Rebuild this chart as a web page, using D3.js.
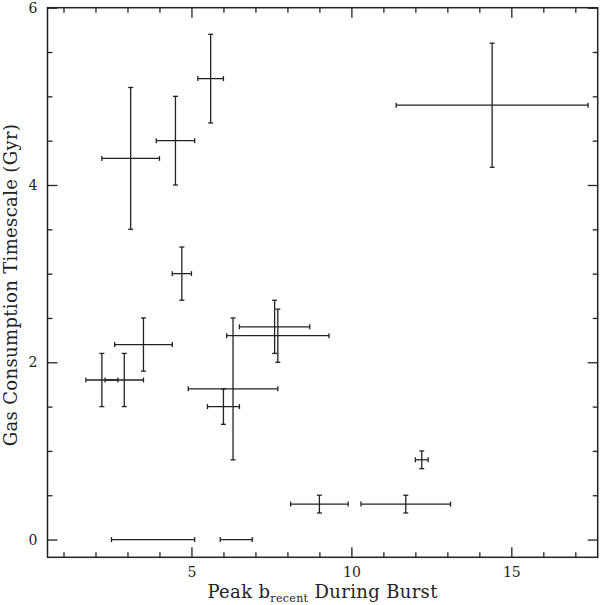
<!DOCTYPE html>
<html>
<head>
<meta charset="utf-8">
<script src="https://cdn.jsdelivr.net/npm/d3@7"></script>
<style>
  html, body { margin: 0; padding: 0; background: #fff; }
  svg { display: block; }
  text { font-family: "DejaVu Serif", "Liberation Serif", serif; fill: #222; }
</style>
</head>
<body>
<svg id="chart" width="600" height="605"></svg>
<script>
// ---- data ----
const xVal = [3.1, 4.5, 5.6, 14.4, 4.7, 3.5, 2.2, 2.9, 6.3, 6.0, 7.6, 7.7, 12.2, 9.0, 11.7, 3.8, 6.4];
const yVal = [4.3, 4.5, 5.2, 4.9, 3.0, 2.2, 1.8, 1.8, 1.7, 1.5, 2.4, 2.3, 0.9, 0.4, 0.4, 0.0, 0.0];
const xLow = [2.2, 3.9, 5.2, 11.4, 4.4, 2.6, 1.7, 2.3, 4.9, 5.5, 6.5, 6.1, 12.0, 8.1, 10.3, 2.5, 5.9];
const xHigh = [4.0, 5.1, 6.0, 17.4, 5.0, 4.4, 2.7, 3.5, 7.7, 6.5, 8.7, 9.3, 12.4, 9.9, 13.1, 5.1, 6.9];
const yLow = [3.5, 4.0, 4.7, 4.2, 2.7, 1.9, 1.5, 1.5, 0.9, 1.3, 2.1, 2.0, 0.8, 0.3, 0.3, 0.0, 0.0];
const yHigh = [5.1, 5.0, 5.7, 5.6, 3.3, 2.5, 2.1, 2.1, 2.5, 1.7, 2.7, 2.6, 1.0, 0.5, 0.5, 0.0, 0.0];

const xMajorTicks = [5, 10, 15];
const xMinorTicks = [1,2,3,4,6,7,8,9,11,12,13,14,16,17];
const yMajorTicks = [0, 2, 4, 6];
const yMinorTicks = [0.5,1,1.5,2.5,3,3.5,4.5,5,5.5];

const xDomain = [0.5, 17.7];
const yDomain = [-0.2, 6];

const xLabel = "Peak b";
const xLabelSub = "recent";
const xLabelTail = " During Burst";
const yLabel = "Gas Consumption Timescale (Gyr)";

// ---- layout ----
const pLeft = 47.5, pRight = 597.7, pTop = 7.7, pBottom = 557.3;
const ink = "#222";

const svg = d3.select("#chart");
const x = d3.scaleLinear().domain(xDomain).range([pLeft, pRight]);
const y = d3.scaleLinear().domain(yDomain).range([pBottom, pTop]);

const data = xVal.map((v, i) => ({x: v, y: yVal[i], xl: xLow[i], xh: xHigh[i], yl: yLow[i], yh: yHigh[i]}));

// axes: ticks pointing inward on all four sides
function styleAxis(g) {
  g.select(".domain").remove();
  g.selectAll(".tick line").attr("stroke", ink).attr("stroke-width", 1.3);
  g.selectAll(".tick text").attr("fill", ink).style("font-size", "14px")
    .style("font-family", '"DejaVu Serif", serif');
}

const majLen = 10, minLen = 5;
// bottom
svg.append("g").attr("transform", `translate(0,${pBottom})`)
  .call(d3.axisBottom(x).tickValues(xMajorTicks).tickSize(-majLen).tickPadding(9.5).tickFormat(d3.format("d")))
  .call(styleAxis);
svg.append("g").attr("transform", `translate(0,${pBottom})`)
  .call(d3.axisBottom(x).tickValues(xMinorTicks).tickSize(-minLen).tickFormat(""))
  .call(styleAxis);
// top
svg.append("g").attr("transform", `translate(0,${pTop})`)
  .call(d3.axisTop(x).tickValues(xMajorTicks).tickSize(-majLen).tickFormat(""))
  .call(styleAxis);
svg.append("g").attr("transform", `translate(0,${pTop})`)
  .call(d3.axisTop(x).tickValues(xMinorTicks).tickSize(-minLen).tickFormat(""))
  .call(styleAxis);
// left
svg.append("g").attr("transform", `translate(${pLeft},0)`)
  .call(d3.axisLeft(y).tickValues(yMajorTicks).tickSize(-majLen).tickPadding(10).tickFormat(d3.format("d")))
  .call(styleAxis);
svg.append("g").attr("transform", `translate(${pLeft},0)`)
  .call(d3.axisLeft(y).tickValues(yMinorTicks).tickSize(-minLen).tickFormat(""))
  .call(styleAxis);
// right
svg.append("g").attr("transform", `translate(${pRight},0)`)
  .call(d3.axisRight(y).tickValues(yMajorTicks).tickSize(-majLen).tickFormat(""))
  .call(styleAxis);
svg.append("g").attr("transform", `translate(${pRight},0)`)
  .call(d3.axisRight(y).tickValues(yMinorTicks).tickSize(-minLen).tickFormat(""))
  .call(styleAxis);

// frame
svg.append("rect").attr("x", pLeft).attr("y", pTop)
  .attr("width", pRight - pLeft).attr("height", pBottom - pTop)
  .attr("fill", "none").attr("stroke", ink).attr("stroke-width", 1.5);

// error bars
const cap = 2.5;
const g = svg.append("g").attr("stroke", ink).attr("stroke-width", 1.3).attr("fill", "none");
data.forEach(d => {
  const cx = x(d.x), cy = y(d.y);
  g.append("line").attr("x1", x(d.xl)).attr("x2", x(d.xh)).attr("y1", cy).attr("y2", cy);
  g.append("line").attr("x1", x(d.xl)).attr("x2", x(d.xl)).attr("y1", cy - cap).attr("y2", cy + cap);
  g.append("line").attr("x1", x(d.xh)).attr("x2", x(d.xh)).attr("y1", cy - cap).attr("y2", cy + cap);
  if (d.yh > d.yl) {
    g.append("line").attr("x1", cx).attr("x2", cx).attr("y1", y(d.yl)).attr("y2", y(d.yh));
    g.append("line").attr("x1", cx - cap).attr("x2", cx + cap).attr("y1", y(d.yl)).attr("y2", y(d.yl));
    g.append("line").attr("x1", cx - cap).attr("x2", cx + cap).attr("y1", y(d.yh)).attr("y2", y(d.yh));
  }
});

// axis titles
const xt = svg.append("text").attr("x", (pLeft + pRight) / 2).attr("y", 597.5)
  .attr("text-anchor", "middle").style("font-size", "18px").style("letter-spacing", "0.35px");
xt.append("tspan").text(xLabel);
xt.append("tspan").attr("dy", 4.5).style("font-size", "11px").text(xLabelSub);
xt.append("tspan").attr("dy", -4.5).text(xLabelTail);

svg.append("text")
  .attr("transform", `translate(17,285) rotate(-90)`)
  .attr("text-anchor", "middle").style("font-size", "18px").style("letter-spacing", "0.35px")
  .text(yLabel);
</script>
</body>
</html>
